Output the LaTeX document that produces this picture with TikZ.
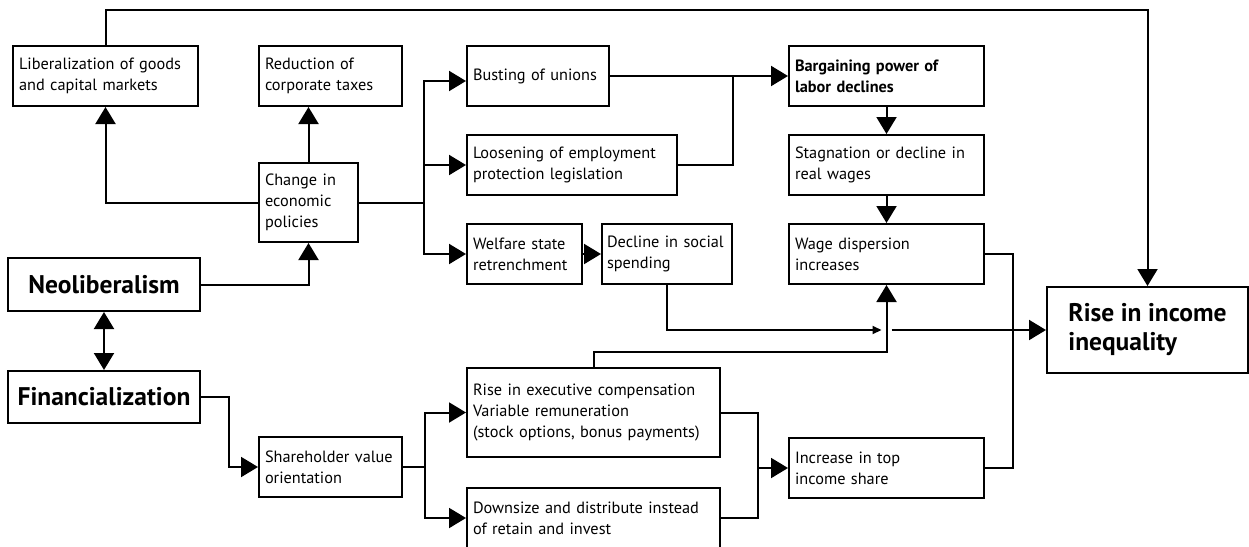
\documentclass[tikz,border=0pt]{standalone}
\usepackage{fontspec}
\setmainfont{PT Sans}
\usetikzlibrary{arrows.meta}

\tikzset{
  box/.style={draw, inner xsep=6pt, inner ysep=0pt, minimum height=60pt, align=left,
    font=\fontsize{16.3}{21}\selectfont},
  bigbox/.style={draw, inner sep=0pt, align=left, font=\fontsize{25.5}{29}\selectfont\bfseries},
  smallhead/.style={-{Triangle[length=9pt,width=8pt]}}
}

\begin{document}
\begin{tikzpicture}[x=1pt, y=-1pt, line width=2pt, >={Triangle[length=17pt,width=20pt]}]
\useasboundingbox (0,0) rectangle (1249,546);
% policies
\node[box, text width=173pt] (lib) at (105.5,76) {Liberalization of goods\\and capital markets};
\node[box, text width=131pt] (red) at (330.5,76) {Reduction of\\corporate taxes};
\node[box, text width=87pt, minimum height=79pt] (change) at (308.5,202.5) {Change in\\economic\\policies};
\node[box, text width=130pt] (bust) at (538,76) {Busting of unions};
\node[box, text width=198pt] (loos) at (572,165) {Loosening of employment\\protection legislation};
\node[box, text width=103pt] (welf) at (524.5,254) {Welfare state\\retrenchment};
\node[box, text width=120pt, inner xsep=5pt] (decl) at (667,254) {Decline in social\\spending};
% labor
\node[box, text width=183pt, font=\fontsize{16.3}{21}\selectfont\bfseries] (barg) at (886.5,76) {Bargaining power of\\labor declines};
\node[box, text width=183pt] (stag) at (886.5,165) {Stagnation or decline in\\real wages};
\node[box, text width=183pt] (wage) at (886.5,254) {Wage dispersion\\increases};
\node[box, text width=183pt] (incr) at (886.5,468) {Increase in top\\income share};
% finance
\node[bigbox, minimum width=192pt, minimum height=53pt] (neo) at (104,284.5) {Neoliberalism};
\node[bigbox, minimum width=192pt, minimum height=52pt] (fin) at (104,397) {Financialization};
\node[box, text width=131pt] (share) at (330.5,467) {Shareholder value\\orientation};
\node[box, text width=241pt, minimum height=89pt] (rexec) at (593.5,412.5) {Rise in executive compensation\\Variable remuneration\\(stock options, bonus payments)};
\node[box, text width=241pt] (down) at (593.5,518) {Downsize and distribute instead\\of retain and invest};
\node[bigbox, minimum width=201pt, minimum height=86pt] (rii) at (1147.5,330) {Rise in income\\inequality};

\coordinate (top) at (0,10);
\coordinate (mid) at (wage.south |- rii.west);

\draw[<->] (neo.south) -- (fin.north);
\draw[->] (neo.east) -| (change.south);
\draw[->] (change.north) -- (change.north |- red.south);
\draw[->] (change.west) -| (lib.south);
\draw[->] (lib.north) -- (lib.north |- top) -| (rii.north);
\draw (change.east) -- ++(65,0) coordinate (b1);
\draw[->] (b1) |- ([yshift=-5pt]bust.west);
\draw[->] (b1) |- (loos.west);
\draw[->] (b1) |- (welf.west);
\draw[->] (bust.east) -- (barg.west);
\draw (loos.east) -| (bust.east -| decl.east);
\draw[->] (welf.east) -- (decl.west);
\draw[->] (barg.south) -- (stag.north);
\draw[->] (stag.south) -- (wage.north);
\draw[smallhead] (decl.south) |- ([xshift=-5pt]mid);
\draw[->] ([xshift=5pt]mid) -- (rii.west);
\draw[->] (rexec.north) -- ++(0,-15) -| (wage.south);
\draw (wage.east) -- ++(28,0) |- (incr.east);
\draw[->] (fin.east) -- ++(28,0) |- (share.west);
\draw (share.east) -- ++(22,0) coordinate (b2);
\draw[->] (b2) |- (rexec.west);
\draw[->] (b2) |- (down.west);
\draw (rexec.east) -- ++(37,0) coordinate (b3) |- (down.east);
\draw[->] (b3 |- incr.west) -- (incr.west);
\end{tikzpicture}
\end{document}
